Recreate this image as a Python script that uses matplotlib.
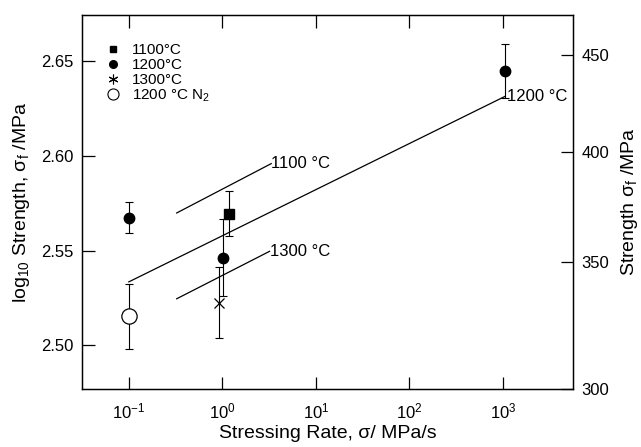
import numpy as np
import matplotlib
matplotlib.use("Agg")
import matplotlib.pyplot as plt
from matplotlib.lines import Line2D

plt.rcParams['font.family'] = ['Liberation Sans', 'DejaVu Sans']
plt.rcParams['mathtext.fontset'] = 'custom'
plt.rcParams['mathtext.rm'] = 'Liberation Sans'
plt.rcParams['mathtext.it'] = 'Liberation Sans'

# measured points: stressing rate (MPa/s), log10 strength, error (+/-)
rate_1100 = [1.17]
logs_1100 = [2.5695]
err_1100 = [0.012]

rate_1200 = [0.1, 1.02, 1050]
logs_1200 = [2.5674, 2.5463, 2.6444]
err_1200 = [0.008, 0.0205, 0.0142]

rate_1300 = [0.91]
logs_1300 = [2.5225]
err_1300 = [0.0188]

rate_n2 = [0.1]
logs_n2 = [2.5153]
err_n2 = [0.0172]

# fitted lines (end points)
fit_1100_x = [0.325, 3.33]
fit_1100_y = [2.5698, 2.5958]
fit_1200_x = [0.1, 1050]
fit_1200_y = [2.5335, 2.6312]
fit_1300_x = [0.325, 3.2]
fit_1300_y = [2.5246, 2.5496]

right_ticks = [300, 350, 400, 450]

fig = plt.figure(figsize=(6.41, 4.47), dpi=100)
ax = fig.add_axes([0.128, 0.130, 0.766, 0.836])

lw = 0.9
ax.plot(fit_1100_x, fit_1100_y, color='black', lw=lw)
ax.plot(fit_1200_x, fit_1200_y, color='black', lw=lw)
ax.plot(fit_1300_x, fit_1300_y, color='black', lw=lw)

ax.text(fit_1100_x[1], fit_1100_y[1], '1100 °C', fontsize=12, ha='left', va='center')
ax.text(fit_1300_x[1], fit_1300_y[1], '1300 °C', fontsize=12, ha='left', va='center')
ax.text(fit_1200_x[1] * 1.05, fit_1200_y[1], '1200 °C', fontsize=12, ha='left', va='center')

ebkw = dict(fmt='none', ecolor='black', elinewidth=0.8, capsize=3, capthick=0.8)
ax.errorbar(rate_1100, logs_1100, yerr=err_1100, **ebkw)
ax.errorbar(rate_1200, logs_1200, yerr=err_1200, **ebkw)
ax.errorbar(rate_1300, logs_1300, yerr=err_1300, **ebkw)
ax.errorbar(rate_n2, logs_n2, yerr=err_n2, **ebkw)

ax.plot(rate_1100, logs_1100, 's', color='black', ms=6.5, ls='none')
ax.plot(rate_1200, logs_1200, 'o', color='black', ms=7.5, ls='none')
ax.plot(rate_1300, logs_1300, 'x', color='black', ms=7, mew=0.9, ls='none')
ax.plot(rate_n2, logs_n2, 'o', mfc='white', mec='black', mew=0.9, ms=11, ls='none')

ax.set_xscale('log')
ax.set_xlim(10 ** -1.5, 10 ** 3.75)
ax.set_ylim(np.log10(300), 2.674)
ax.set_xticks([0.1, 1, 10, 100, 1000])
ax.set_xticklabels(['10$^{-1}$', '10$^{0}$', '10$^{1}$', '10$^{2}$', '10$^{3}$'])
ax.xaxis.set_minor_locator(matplotlib.ticker.NullLocator())
ax.set_yticks([2.50, 2.55, 2.60, 2.65])
ax.set_yticklabels(['2.50', '2.55', '2.60', '2.65'])
ax.tick_params(axis='both', which='major', direction='in', length=9, width=0.9,
               labelsize=12, top=True, right=False, pad=6)
ax.tick_params(axis='x', pad=9)

for s in ax.spines.values():
    s.set_linewidth(1.0)

ax2 = ax.twinx()
ax2.set_ylim(ax.get_ylim())
ax2.set_yticks(np.log10(right_ticks))
ax2.set_yticklabels([str(v) for v in right_ticks])
ax2.tick_params(axis='y', direction='in', length=9, width=0.9, labelsize=12, pad=6)
ax2.yaxis.set_minor_locator(matplotlib.ticker.NullLocator())

ax.set_xlabel('Stressing Rate, σ/ MPa/s', fontsize=14, labelpad=3)
ax.set_ylabel('log$_{10}$ Strength, σ$_\\mathrm{f}$ /MPa', fontsize=14, labelpad=7)
ax2.set_ylabel('Strength σ$_\\mathrm{f}$ /MPa', fontsize=14, labelpad=7)

handles = [
    Line2D([], [], marker='s', color='black', ls='none', ms=5),
    Line2D([], [], marker='o', color='black', ls='none', ms=5.5),
    Line2D([], [], marker=(6, 2, 0), color='black', ls='none', ms=7, mew=0.8),
    Line2D([], [], marker='o', mfc='white', mec='black', ls='none', ms=8, mew=0.8),
]
labels = ['1100°C', '1200°C', '1300°C', '1200 °C N$_2$']
ax.legend(handles, labels, loc='upper left', frameon=False, fontsize=11,
          handletextpad=0.6, handlelength=1.2, labelspacing=0.05, borderaxespad=0.4,
          bbox_to_anchor=(0.02, 0.957))

fig.savefig('out.png', dpi=100)
